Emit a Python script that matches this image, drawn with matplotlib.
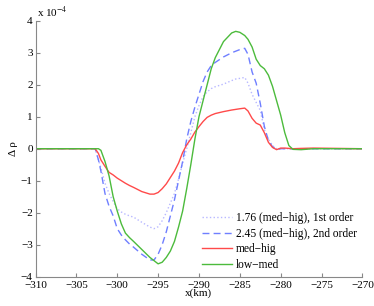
import numpy as np
import matplotlib.pyplot as plt

plt.rcParams['font.family'] = ['Liberation Serif', 'DejaVu Serif']
plt.rcParams['mathtext.fontset'] = 'stix'

# x positions (km) where values were read
x = [-310, -303, -302.7, -302.3, -302, -301.5, -301, -300.5, -300, -299.5, -299, -298.5,
     -298, -297, -296, -295.5, -295, -294.5, -294, -293.5, -293, -292.5, -292, -291.5,
     -291, -290.5, -290, -289.5, -289, -288.5, -288, -287, -286, -285.5, -285, -284.4,
     -284, -283.5, -283, -282.5, -282, -281.5, -281, -280.5, -280, -279.5, -279, -278.5,
     -277.5, -276, -270]

# values in units of 1e-4
dotted_1st = [0, 0, 0, -0.35, -0.6, -1.08, -1.4, -1.65, -1.88, -1.98, -2.05, -2.1,
              -2.14, -2.3, -2.45, -2.5, -2.44, -2.25, -2.0, -1.7, -1.4, -0.95, -0.46, 0.0,
              0.5, 1.0, 1.35, 1.63, 1.78, 1.88, 1.94, 2.02, 2.13, 2.18, 2.2, 2.23,
              2.05, 1.7, 1.45, 1.2, 0.6, 0.3, 0.1, 0.0, 0, 0, 0, 0,
              0, 0, 0]
dashed_2nd = [0, 0, 0, -0.35, -0.7, -1.4, -1.8, -2.1, -2.5, -2.7, -2.85, -2.98,
              -3.08, -3.3, -3.48, -3.48, -3.3, -3.0, -2.6, -2.1, -1.6, -1.0, -0.4, 0.3,
              0.85, 1.3, 1.7, 2.1, 2.4, 2.6, 2.7, 2.87, 3.0, 3.05, 3.1, 3.14,
              2.95, 2.4, 2.05, 1.42, 0.7, 0.25, 0.06, -0.03, 0, 0, 0, 0,
              0, 0, 0]
med_hig = [0, 0, 0, -0.15, -0.35, -0.55, -0.74, -0.82, -0.92, -1.0, -1.08, -1.15,
           -1.21, -1.34, -1.42, -1.42, -1.37, -1.25, -1.1, -0.9, -0.7, -0.45, -0.12, 0.12,
           0.3, 0.52, 0.69, 0.85, 0.98, 1.05, 1.1, 1.16, 1.21, 1.23, 1.25, 1.27,
           1.18, 0.95, 0.8, 0.74, 0.5, 0.2, 0.04, -0.03, 0.02, 0.02, 0.01, 0.0,
           0.01, 0.02, 0]
low_med = [0, 0, 0, 0, -0.05, -0.4, -0.85, -1.5, -1.95, -2.35, -2.64, -2.78,
           -2.9, -3.15, -3.4, -3.5, -3.6, -3.55, -3.4, -3.2, -2.9, -2.45, -1.95, -1.25,
           -0.5, 0.3, 1.0, 1.5, 2.0, 2.5, 2.85, 3.35, 3.62, 3.67, 3.64, 3.54,
           3.42, 3.18, 2.8, 2.6, 2.5, 2.3, 1.95, 1.5, 1.05, 0.5, 0.1, -0.02,
           -0.03, 0, 0]

labels = ['1.76 (med\u2212hig), 1st order', '2.45 (med\u2212hig), 2nd order',
          'med\u2212hig', 'low\u2212med']

fig = plt.figure(figsize=(3.74, 3.06), dpi=100)
ax = fig.add_axes([0.095, 0.096, 0.874, 0.836])

sc = 1e-4
ax.plot(x, np.array(dotted_1st) * sc, ':', color='#b8b8ff', lw=1.0, label=labels[0])
ax.plot(x, np.array(dashed_2nd) * sc, '--', color='#6f7fff', lw=1.0, dashes=(5, 3), label=labels[1])
ax.plot(x, np.array(med_hig) * sc, '-', color='#ff4a4a', lw=1.0, label=labels[2])
ax.plot(x, np.array(low_med) * sc, '-', color='#4cbb3c', lw=1.0, label=labels[3])

ax.set_xlim(-310, -270)
ax.set_ylim(-4e-4, 4e-4)
ax.set_xticks(np.arange(-310, -269, 5))
ax.set_yticks(np.arange(-4, 5, 1) * sc)
ax.set_yticklabels([str(v).replace('-', '\u2212') for v in range(-4, 5)])
ax.set_xticklabels([str(v).replace('-', '\u2212') for v in range(-310, -269, 5)])
ax.tick_params(direction='in', length=3, labelsize=8, color='#888888')
ax.tick_params(axis='x', pad=3)
ax.tick_params(axis='y', pad=2)
for s in ['top', 'right']:
    ax.spines[s].set_visible(False)
for s in ['left', 'bottom']:
    ax.spines[s].set_color('#888888')
    ax.spines[s].set_linewidth(0.8)

ax.set_xlabel('x(km)', fontsize=8, labelpad=-1)
ax.set_ylabel('\u0394 \u03c1', fontsize=8, labelpad=2)
fig.text(0.098, 0.945, 'x 10$^{-4}$', fontsize=8)

ax.legend(loc='lower right', frameon=False, fontsize=8.3, handlelength=2.6,
          handletextpad=0.3, labelspacing=0.3, borderaxespad=0.1)

fig.savefig('out.png', dpi=100)
